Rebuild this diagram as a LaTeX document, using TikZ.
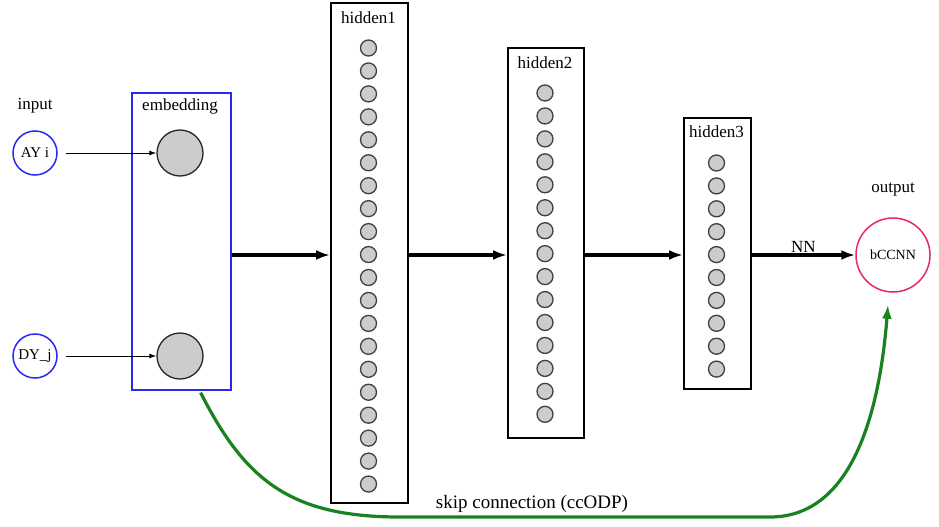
\documentclass[tikz,border=0pt]{standalone}
\usepackage{fontspec}
\setmainfont{Liberation Serif}
\usetikzlibrary{arrows.meta}
\definecolor{embblue}{RGB}{40,40,240}
\definecolor{outred}{RGB}{232,40,100}
\definecolor{skipgreen}{RGB}{25,130,30}
\begin{document}
\begin{tikzpicture}[x=1pt, y=-1pt,
    unit/.style={circle, draw=black!75, fill=black!20, line width=1.3pt, inner sep=0pt, minimum size=16pt},
    bigunit/.style={circle, draw=black!85, fill=black!20, line width=1.3pt, inner sep=0pt, minimum size=46pt},
    layerbox/.style={draw, rectangle, line width=1.6pt, anchor=north west, inner sep=0pt},
    lbl/.style={font=\fontsize{17}{20}\selectfont},
    flow/.style={line width=3.2pt, -{Latex[length=14pt,width=10pt]}},
    thin/.style={line width=1pt, -{Latex[length=7pt,width=5pt]}, shorten <=8pt}]
  \useasboundingbox (0,0) rectangle (939,527);

  % Entradas
  \node[lbl] (inlbl) at (35,106) {input};
  \node[circle, draw=embblue, line width=1.5pt, minimum size=44pt, inner sep=0pt,
        font=\fontsize{15}{18}\selectfont] (ay) at (35,153) {AY i};
  \node[circle, draw=embblue, line width=1.5pt, minimum size=44pt, inner sep=0pt,
        font=\fontsize{15}{18}\selectfont] (dy) at (35,356) {DY\_j};

  % Camada de embedding
  \node[layerbox, draw=embblue, minimum width=99pt, minimum height=297pt] (emb) at (131,92) {};
  \node[lbl] (emblbl) at (180,106) {embedding};
  \node[bigunit] (e1) at (180,153) {};
  \node[bigunit] (e2) at (180,356) {};
  \draw[thin] (ay) -- (e1);
  \draw[thin] (dy) -- (e2);

  % Camadas escondidas
  \node[layerbox, minimum width=77pt, minimum height=500pt] (h1) at (330,2) {};
  \node[lbl] (h1lbl) at (368.5,18) {hidden1};
  \foreach \i in {1,...,20}
    \node[unit] (h1-\i) at ({368.5},{48+22.95*(\i-1)}) {};

  \node[layerbox, minimum width=76pt, minimum height=390pt] (h2) at (507,47) {};
  \node[lbl] (h2lbl) at (545,63) {hidden2};
  \foreach \i in {1,...,15}
    \node[unit] (h2-\i) at ({545},{93+22.95*(\i-1)}) {};

  \node[layerbox, minimum width=67pt, minimum height=271pt] (h3) at (683,117) {};
  \node[lbl] (h3lbl) at (716.5,132) {hidden3};
  \foreach \i in {1,...,10}
    \node[unit] (h3-\i) at ({716.5},{163+22.9*(\i-1)}) {};

  % Saida
  \node[lbl] (outlbl) at (893,190) {output};
  \node[circle, draw=outred, line width=1.5pt, minimum size=74pt, inner sep=0pt,
        font=\fontsize{14}{17}\selectfont] (out) at (893,255) {bCCNN};

  % Setas grossas entre camadas
  \draw[flow] (emb.east |- out) -- (h1.west |- out);
  \draw[flow] (h1.east |- out) -- (h2.west |- out);
  \draw[flow] (h2.east |- out) -- (h3.west |- out);
  \draw[flow] (h3.east |- out) -- (out.west) node[lbl, midway, above, yshift=-2pt] (nn) {NN};

  % Ligacao de salto
  \coordinate (skipstart) at ([xshift=-31pt,yshift=-2pt]emb.south east);
  \coordinate (skipend) at ([xshift=-5pt,yshift=-12pt]out.south);
  \draw[skipgreen, line width=3.2pt, -{Latex[length=14pt,width=10pt]}]
    (skipstart) .. controls (245,480) and (290,517) .. (400,517)
    -- (770,517) .. controls (845,517) and (878,430) .. (skipend);
  \node[font=\fontsize{19}{22}\selectfont] (skiplbl) at (532,504) {skip connection (ccODP)};
\end{tikzpicture}
\end{document}
